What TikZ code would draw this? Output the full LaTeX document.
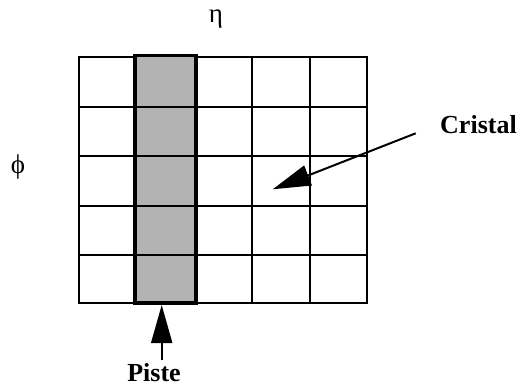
\documentclass[tikz,border=0pt]{standalone}
\usepackage{fontspec}
\setmainfont{Liberation Serif}
\usetikzlibrary{arrows.meta}
\definecolor{pistegray}{HTML}{B3B3B3}
\tikzset{
  gridline/.style={line width=2pt, black},
  pistebox/.style={fill=pistegray, draw=black, line width=3.5pt},
  lbl/.style={font=\fontsize{26}{30}\selectfont\bfseries, inner sep=0pt, text depth=0pt},
  greek/.style={font=\fontsize{27}{30}\selectfont, inner sep=0pt, anchor=base},
  bigarrow/.style={line width=2pt, -{Triangle[length=38pt,width=21pt]}}
}
\begin{document}
\begin{tikzpicture}[x=1pt,y=-1pt]
\useasboundingbox (0,0) rectangle (518,389);
% grid
\foreach \x in {79,135,196,252,310,367} \draw[gridline] (\x,57) -- (\x,303);
\foreach \y in {57,106.5,156,205.5,255,303} \draw[gridline] (78,\y) -- (368,\y);
% piste column
\draw[pistebox] (135,55.5) rectangle (196,303);
\foreach \y in {106.5,156,205.5,255} \draw[gridline] (135,\y) -- (196,\y);
% labels
\node[greek] (eta) at (216,22) {η};
\node[greek] (phi) at (18,173) {ϕ};
\node[lbl, anchor=base west] (cristal) at (440,133) {Cristal};
\node[lbl, anchor=base] (piste) at (154,381) {Piste};
% arrows
\coordinate (ctail) at (415.7,133.3);
\coordinate (ctip) at (272.7,189.3);
\coordinate (ptail) at (161.7,360);
\coordinate (ptip) at (161.7,305);
\draw[bigarrow] (ctail) -- (ctip);
\draw[bigarrow] (ptail) -- (ptip);
\end{tikzpicture}
\end{document}
